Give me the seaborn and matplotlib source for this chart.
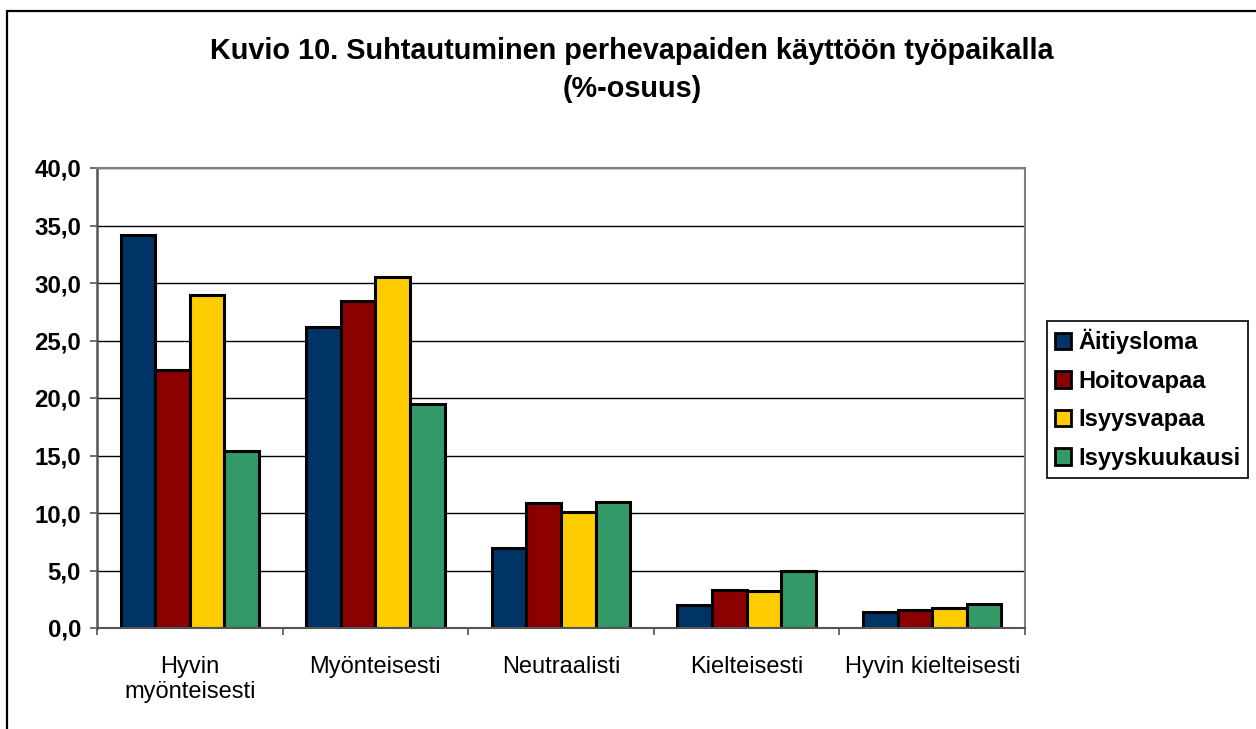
import matplotlib
matplotlib.use("Agg")
import matplotlib.pyplot as plt
from matplotlib.lines import Line2D
from matplotlib.patches import Patch
from matplotlib.ticker import FuncFormatter, FixedLocator
import seaborn as sns
import pandas as pd

categories = ["Hyvin\nmyönteisesti", "Myönteisesti", "Neutraalisti", "Kielteisesti", "Hyvin kielteisesti"]
series = ["Äitiysloma", "Hoitovapaa", "Isyysvapaa", "Isyyskuukausi"]
aitiysloma = [34.2, 26.2, 7.0, 2.0, 1.4]
hoitovapaa = [22.4, 28.4, 10.9, 3.3, 1.6]
isyysvapaa = [29.0, 30.5, 10.1, 3.2, 1.7]
isyyskuukausi = [15.4, 19.5, 11.0, 5.0, 2.1]
colors = ["#003366", "#8B0000", "#FFCC00", "#339966"]
yticks = [0, 5, 10, 15, 20, 25, 30, 35, 40]

rows = []
for name, vals in zip(series, [aitiysloma, hoitovapaa, isyysvapaa, isyyskuukausi]):
    for c, v in zip(categories, vals):
        rows.append({"Luokka": c, "Sarja": name, "Arvo": v})
df = pd.DataFrame(rows)

sns.set_theme(style="white", rc={"text.color": "black", "axes.labelcolor": "black",
                                 "xtick.color": "black", "ytick.color": "black"})
plt.rcParams["font.family"] = ["Liberation Sans", "DejaVu Sans"]

W, H = 1256, 729
fig = plt.figure(figsize=(W / 100, H / 100), dpi=100)
ax = fig.add_axes([97 / W, 1 - 628 / H, (1025 - 97) / W, (628 - 168) / H])

sns.barplot(data=df, x="Luokka", y="Arvo", hue="Sarja", order=categories,
            hue_order=series, palette=colors, width=0.745, gap=0,
            edgecolor="black", linewidth=2.2, saturation=1, ax=ax, legend=False)

ax.set_ylim(0, 40)
ax.set_xlim(-0.5, len(categories) - 0.5)
ax.yaxis.set_major_locator(FixedLocator(yticks))
ax.yaxis.set_major_formatter(FuncFormatter(lambda v, p: f"{v:.1f}".replace(".", ",")))
ax.grid(axis="y", color="black", linewidth=1.0)
ax.set_axisbelow(True)
ax.set_xlabel("")
ax.set_ylabel("")

for s in ["top", "right", "bottom"]:
    ax.spines[s].set_color("#808080")
    ax.spines[s].set_linewidth(1.5)
ax.spines["left"].set_color("#555555")
ax.spines["left"].set_linewidth(1.8)
ax.spines["bottom"].set_color("#555555")

ax.tick_params(axis="y", which="major", direction="out", length=5, width=1.2,
               color="#555555", labelcolor="black", left=True, labelsize=17.3, pad=6.5)
for t in ax.get_yticklabels():
    t.set_fontweight("bold")

ax.set_xticks(range(len(categories)))
ax.set_xticklabels(categories, fontsize=17, linespacing=1.2, color="black")
ax.xaxis.set_minor_locator(FixedLocator([i - 0.5 for i in range(len(categories) + 1)]))
ax.tick_params(axis="x", which="major", length=0, pad=20)
ax.tick_params(axis="x", which="minor", direction="out", length=5, width=1.2,
               color="#555555", bottom=True)

handles = [Patch(facecolor=c, edgecolor="black", linewidth=2) for c in colors]
leg = fig.legend(handles, series, loc="upper left",
                 bbox_to_anchor=(1047 / W, 1 - 321 / H), frameon=True,
                 fancybox=False, edgecolor="black", framealpha=1,
                 prop={"weight": "bold", "size": 17},
                 handlelength=0.7, handleheight=0.7, handletextpad=0.3,
                 labelspacing=0.66, borderpad=0.33, borderaxespad=0)
leg.get_frame().set_linewidth(1.2)
for t in leg.get_texts():
    t.set_color("black")

fig.text(632 / W, 1 - 70 / H,
         "Kuvio 10. Suhtautuminen perhevapaiden käyttöön työpaikalla\n(%-osuus)",
         ha="center", va="center", fontsize=20.8, fontweight="bold", linespacing=1.45,
         color="black")

fig.add_artist(Line2D([6.5 / W, 6.5 / W], [0, 1 - 10.5 / H], transform=fig.transFigure,
                      color="black", linewidth=1.6))
fig.add_artist(Line2D([6.5 / W, 1], [1 - 10.5 / H, 1 - 10.5 / H], transform=fig.transFigure,
                      color="black", linewidth=1.6))

fig.savefig("out.png", dpi=100)
